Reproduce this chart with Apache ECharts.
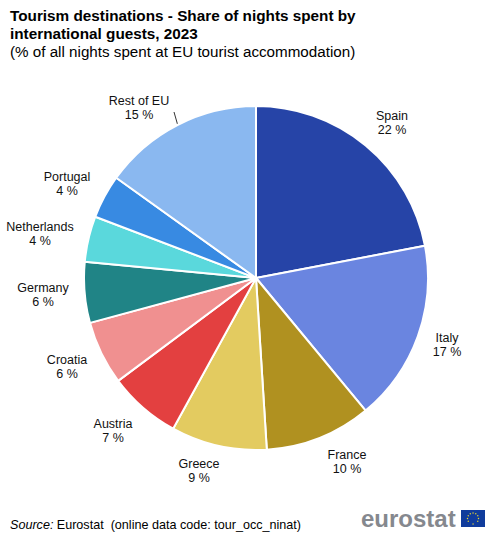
<!DOCTYPE html>
<html lang="en">
<head>
  <meta charset="utf-8">
  <title>Tourism destinations</title>
  <script src="https://cdn.jsdelivr.net/npm/echarts@6/dist/echarts.min.js"></script>
  <style>
    html, body, #chart { width: 500px; height: 537px; margin: 0; padding: 0; overflow: hidden; background: #fff; }
  </style>
</head>
<body>
  <div id="chart"></div>
  <script>
    var categories = ['Spain', 'Italy', 'France', 'Greece', 'Austria', 'Croatia', 'Germany', 'Netherlands', 'Portugal', 'Rest of EU'];
    var shares = [22, 17, 10, 9.0, 6.8, 6.0, 5.7, 4.3, 4.1, 15.1];
    var colors = ['#2644A7', '#6A85E0', '#B09120', '#E3CB60', '#E34040', '#F09090', '#208486', '#5AD8DC', '#388AE2', '#8AB8F0'];

    // where each label sits, centre of the two lines
    var labelCentres = [[392, 123], [447, 345], [347, 462], [199, 471], [113, 431], [67, 367], [43, 295], [40, 234], [67, 184], [139, 108]];

    var FONT = 'Arial, "Liberation Sans", sans-serif';
    var chart = echarts.init(document.getElementById('chart'), null, { renderer: 'svg' });

    var seriesData = categories.map(function (name, i) {
      return { name: name, value: shares[i], itemStyle: { color: colors[i] } };
    });

    // the twelve stars on the flag
    var stars = [];
    for (var s = 0; s < 12; s++) {
      var a = s * Math.PI / 6;
      stars.push({
        type: 'circle',
        shape: { cx: 473 + 5.5 * Math.cos(a), cy: 518.5 + 5.5 * Math.sin(a), r: 0.7 },
        style: { fill: '#E8D630' }
      });
    }

    chart.setOption({
      animation: false,
      backgroundColor: '#fff',
      graphic: [
        { type: 'text', left: 10, top: 8, style: { text: 'Tourism destinations - Share of nights spent by', font: 'bold 15.3px ' + FONT, fill: '#000' } },
        { type: 'text', left: 10, top: 26, style: { text: 'international guests, 2023', font: 'bold 15.3px ' + FONT, fill: '#000' } },
        { type: 'text', left: 10, top: 44, style: { text: '(% of all nights spent at EU tourist accommodation)', font: '15.2px ' + FONT, fill: '#000' } },
        { type: 'text', left: 10, top: 518, style: { rich: { i: { font: 'italic 12.6px ' + FONT, fill: '#000' }, n: { font: '12.6px ' + FONT, fill: '#000' } }, text: '{i|Source:} {n|Eurostat  (online data code: tour_occ_ninat)}' } },
        { type: 'text', left: 361, top: 506, style: { text: 'eurostat', font: 'bold 24px ' + FONT, fill: '#85888E' } },
        { type: 'rect', shape: { x: 461, y: 510, width: 24, height: 17 }, style: { fill: '#103C9C' } },
        { type: 'group', children: stars }
      ],
      series: [{
        type: 'pie',
        center: [256, 278],
        radius: [0, 172],
        startAngle: 90,
        clockwise: true,
        sort: null,
        data: seriesData,
        itemStyle: { borderColor: '#fff', borderWidth: 2 },
        label: {
          color: '#111',
          fontSize: 12.5,
          fontFamily: FONT,
          lineHeight: 14.5,
          align: 'center',
          overflow: 'none',
          formatter: function (p) { return p.name + '\n' + Math.round(p.value) + ' %'; }
        },
        labelLine: { show: true, lineStyle: { color: '#333', width: 1 } },
        labelLayout: function (p) {
          var out = { x: labelCentres[p.dataIndex][0], y: labelCentres[p.dataIndex][1], align: 'center', verticalAlign: 'middle' };
          // only Rest of EU has a leader line in the reference
          out.labelLinePoints = categories[p.dataIndex] === 'Rest of EU'
            ? [[174, 112], [176, 119], [178, 126]]
            : [[0, 0], [0, 0], [0, 0]];
          return out;
        }
      }]
    });
  </script>
</body>
</html>
